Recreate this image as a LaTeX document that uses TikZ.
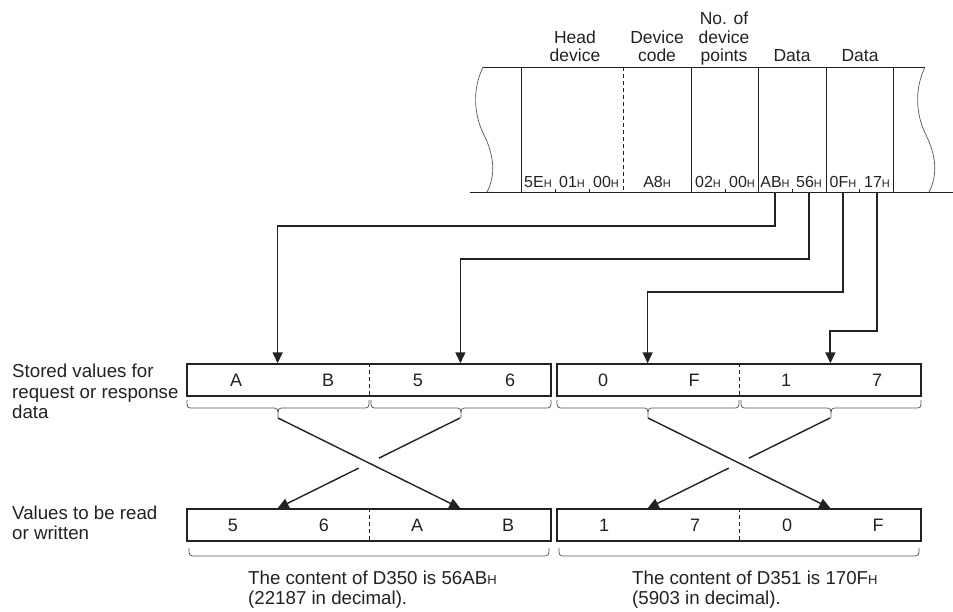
\documentclass[tikz,border=0pt]{standalone}
\usepackage{fontspec}
\setmainfont{Liberation Sans}
\usetikzlibrary{arrows.meta,calc}
\definecolor{ink}{HTML}{222222}
\definecolor{lgray}{HTML}{555555}
\newcommand\hs{{\fontsize{11}{11}\selectfont H}}
\newcommand\hsb{{\fontsize{13}{13}\selectfont H}}
\begin{document}
\begin{tikzpicture}[x=1pt,y=-1pt,
  every node/.style={text=ink,inner sep=0pt},
  fr/.style={draw=ink,line width=1pt},
  wav/.style={draw=lgray,line width=0.7pt},
  conn/.style={draw=ink,line width=1.5pt,-{Triangle[width=10pt,length=11pt]}},
  xarr/.style={draw=ink,line width=1.4pt,-{Triangle[width=10pt,length=11pt]}},
  xline/.style={draw=ink,line width=1.4pt},
  bytebox/.style={draw=ink,line width=1.5pt,minimum width=364pt,minimum height=32pt},
  brc/.style={draw=lgray,line width=0.75pt},
  hdr/.style={font=\fontsize{17.5}{18.5}\selectfont,align=center,anchor=base},
  cel/.style={font=\fontsize{16}{16}\selectfont,anchor=base},
  bl/.style={font=\fontsize{18}{18}\selectfont,anchor=base},
  side/.style={font=\fontsize{18.7}{20.5}\selectfont,align=left,anchor=base west}
]
\useasboundingbox (0,0) rectangle (953,611);

% ---- frame ----
\draw[fr] (483,67) -- (925,67);
\draw[fr] (470,192) -- (953,192);
\coordinate (fb) at (470,192);
\draw[wav] (483,67) .. controls (472,90) and (474,115) .. (484,135) .. controls (494,155) and (496,175) .. (487,192);
\draw[wav] (925,67) .. controls (914,90) and (916,115) .. (926,135) .. controls (936,155) and (938,175) .. (929,192);
\foreach \x in {521,691,758,826,893} \draw[fr] (\x,67) -- (\x,192);
\draw[fr,dash pattern=on 4pt off 3pt] (623,67) -- (623,192);
\foreach \x in {555,589,725,792,859} \draw[fr] (\x,188.5) -- (\x,192);

% ---- header ----
\node[hdr] (hd) at (575,61.5) {Head\\device};
\node[hdr] (dc) at (657,61.5) {Device\\code};
\node[hdr] (np) at (724,61.5) {No. of\\device\\points};
\node[hdr] (d1) at (792,61.5) {Data};
\node[hdr] (d2) at (860,61.5) {Data};

% ---- byte labels ----
\node[cel] (c1) at (538,187.5) {5E\hs};
\node[cel] (c2) at (572,187.5) {01\hs};
\node[cel] (c3) at (606,187.5) {00\hs};
\node[cel] (c4) at (657,187.5) {A8\hs};
\node[cel] (c5) at (708,187.5) {02\hs};
\node[cel] (c6) at (742,187.5) {00\hs};
\node[cel] (c7) at (775,187.5) {AB\hs};
\node[cel] (c8) at (809,187.5) {56\hs};
\node[cel] (c9) at (843,187.5) {0F\hs};
\node[cel] (c10) at (877,187.5) {17\hs};

% ---- stored boxes ----
\node[bytebox] (sA) at (369,380) {};
\node[bytebox] (sB) at (739,380) {};
\draw[fr,dash pattern=on 4pt off 3pt] (sA.north) -- (sA.south);
\draw[fr,dash pattern=on 4pt off 3pt] (sB.north) -- (sB.south);
\coordinate (sA1) at ($(sA.north west)!0.25!(sA.north east)$);
\coordinate (sA2) at ($(sA.north west)!0.75!(sA.north east)$);
\coordinate (sB1) at ($(sB.north west)!0.25!(sB.north east)$);
\coordinate (sB2) at ($(sB.north west)!0.75!(sB.north east)$);
\node[bl] (sa) at (236,386.5) {A};
\node[bl] (sb) at (328,386.5) {B};
\node[bl] (s5) at (418,386.5) {5};
\node[bl] (s6) at (510,386.5) {6};
\node[bl] (s0) at (603,386.5) {0};
\node[bl] (sf) at (694,386.5) {F};
\node[bl] (s1) at (786,386.5) {1};
\node[bl] (s7) at (877,386.5) {7};

% ---- connectors ----
\draw[conn] (c7.base |- fb) -- ++(0,34) -| (sA1);
\draw[conn] (c8.base |- fb) -- ++(0,67) -| (sA2);
\draw[conn] (c9.base |- fb) -- ++(0,100) -| (sB1);
\draw[conn,line width=1.9pt] (c10.base |- fb) -- ++(0,139) -| (sB2);

% ---- braces under stored values ----
\foreach \a/\b in {187/369,371/551,557/739,741/921}{
  \pgfmathsetmacro\m{(\a+\b)/2}
  \draw[brc] (\a,400) .. controls (\a,408) .. (\a+7,408) -- (\m-6,408)
     .. controls (\m,408) .. (\m,418) .. controls (\m,408) .. (\m+6,408)
     -- (\b-7,408) .. controls (\b,408) .. (\b,400);
}
\coordinate (tA1) at (278,418);
\coordinate (tA2) at (460,418);
\coordinate (tB1) at (648,418);
\coordinate (tB2) at (830,418);

% ---- result boxes ----
\node[bytebox] (bA) at (369,525) {};
\node[bytebox] (bB) at (739,525) {};
\draw[fr,dash pattern=on 4pt off 3pt] (bA.north) -- (bA.south);
\draw[fr,dash pattern=on 4pt off 3pt] (bB.north) -- (bB.south);
\coordinate (bA1) at ($(bA.north west)!0.25!(bA.north east)$);
\coordinate (bA2) at ($(bA.north west)!0.75!(bA.north east)$);
\coordinate (bB1) at ($(bB.north west)!0.25!(bB.north east)$);
\coordinate (bB2) at ($(bB.north west)!0.75!(bB.north east)$);
\node[bl] (r5) at (233,531.5) {5};
\node[bl] (r6) at (324,531.5) {6};
\node[bl] (ra) at (417,531.5) {A};
\node[bl] (rb) at (508,531.5) {B};
\node[bl] (r1) at (604,531.5) {1};
\node[bl] (r7) at (695,531.5) {7};
\node[bl] (r0) at (787,531.5) {0};
\node[bl] (rf) at (878,531.5) {F};

% ---- crossing arrows ----
\draw[xline] (tA2) -- ($(tA2)!0.445!(bA1)$);
\draw[xarr] ($(tA2)!0.555!(bA1)$) -- (bA1);
\draw[xarr] (tA1) -- (bA2);
\draw[xline] (tB2) -- ($(tB2)!0.445!(bB1)$);
\draw[xarr] ($(tB2)!0.555!(bB1)$) -- (bB1);
\draw[xarr] (tB1) -- (bB2);

% ---- bottom braces ----
\foreach \a/\b in {189/549,559/919}{
  \draw[brc] (\a,548) .. controls (\a,556) .. (\a+8,556) -- (\b-8,556) .. controls (\b,556) .. (\b,548);
}

% ---- side labels ----
\node[side] (lab1) at (12,418.5) {Stored values for\\request or response\\data};
\node[side] (lab2) at (12,539.5) {Values to be read\\or written};

% ---- bottom texts ----
\node[side] (t1) at (248,604.5) {The content of D350 is 56AB\hsb\\(22187 in decimal).};
\node[side] (t2) at (632,604.5) {The content of D351 is 170F\hsb\\(5903 in decimal).};
\end{tikzpicture}
\end{document}
